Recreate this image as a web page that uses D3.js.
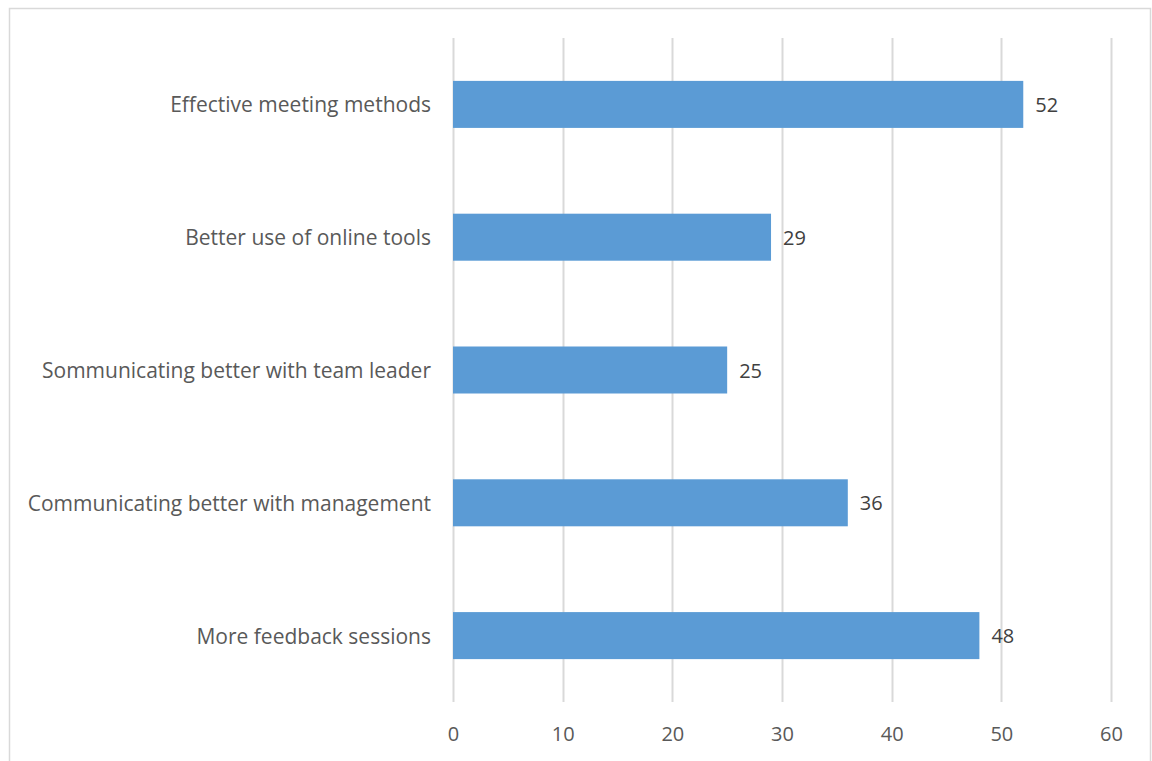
<!DOCTYPE html>
<html>
<head>
<meta charset="utf-8">
<script src="https://cdn.jsdelivr.net/npm/d3@7"></script>
<style>
  html, body { margin: 0; padding: 0; background: #fff; }
  svg { display: block; }
  text { font-family: "Open Sans", sans-serif; }
</style>
</head>
<body>
<svg id="chart" width="1152" height="761"></svg>
<script>
// Survey responses: suggested improvements
const categories = [
  "Effective meeting methods",
  "Better use of online tools",
  "Sommunicating better with team leader",
  "Communicating better with management",
  "More feedback sessions"
];
const counts = [52, 29, 25, 36, 48];
const tickValues = [0, 10, 20, 30, 40, 50, 60];

const svg = d3.select("#chart");
const W = 1152, H = 761;
const margin = { top: 38, right: 41, bottom: 59, left: 453 };
const plotW = W - margin.left - margin.right;
const plotH = H - margin.top - margin.bottom;

// Outer chart frame
svg.append("rect")
  .attr("x", 9.5).attr("y", 8.5)
  .attr("width", 1141).attr("height", 760)
  .attr("fill", "#fff")
  .attr("stroke", "#d9d9d9")
  .attr("stroke-width", 1.5);

const g = svg.append("g").attr("transform", `translate(${margin.left},${margin.top})`);

const x = d3.scaleLinear().domain([0, 60]).range([0, plotW]);
const y = d3.scaleBand().domain(categories).range([0, plotH]).paddingInner(0.646).paddingOuter(0.323);

// Vertical gridlines
g.selectAll("line.grid")
  .data(tickValues)
  .join("line")
  .attr("class", "grid")
  .attr("x1", d => Math.round(x(d)) + 0.5)
  .attr("x2", d => Math.round(x(d)) + 0.5)
  .attr("y1", 0)
  .attr("y2", plotH)
  .attr("stroke", "#d9d9d9")
  .attr("stroke-width", 2);

// Bottom axis labels
const xAxis = d3.axisBottom(x).tickValues(tickValues).tickSize(0).tickPadding(0);
const ax = g.append("g").attr("transform", `translate(0,${plotH})`).call(xAxis);
ax.select(".domain").remove();
ax.selectAll("text")
  .attr("dy", null)
  .attr("y", 31)
  .attr("dominant-baseline", "central")
  .attr("fill", "#595959")
  .style("font-size", "20px");

// Category labels
const yAxis = d3.axisLeft(y).tickSize(0).tickPadding(22);
const ay = g.append("g").call(yAxis);
ay.select(".domain").remove();
ay.selectAll("text")
  .attr("dy", null)
  .attr("dominant-baseline", "central")
  .attr("fill", "#595959")
  .style("font-size", "21px");

// Bars
g.selectAll("rect.bar")
  .data(categories)
  .join("rect")
  .attr("class", "bar")
  .attr("x", x(0))
  .attr("y", d => y(d))
  .attr("width", (d, i) => x(counts[i]) - x(0))
  .attr("height", y.bandwidth())
  .attr("fill", "#5b9bd5");

// Value labels
g.selectAll("text.value")
  .data(categories)
  .join("text")
  .attr("class", "value")
  .attr("x", (d, i) => x(counts[i]) + 12)
  .attr("y", d => y(d) + y.bandwidth() / 2)
  .attr("dominant-baseline", "central")
  .attr("fill", "#404040")
  .style("font-size", "20px")
  .text((d, i) => counts[i]);
</script>
</body>
</html>
